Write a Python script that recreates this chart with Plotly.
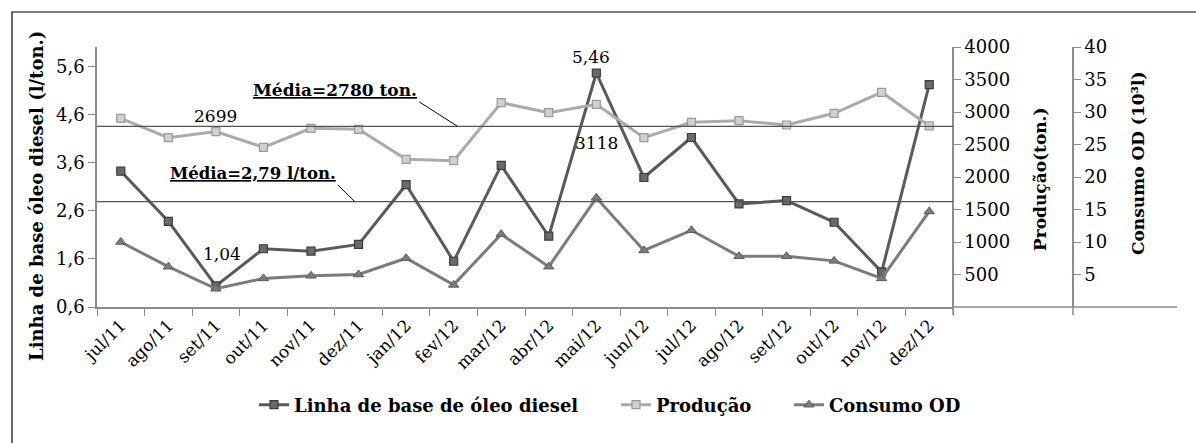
import plotly.graph_objects as go

# ---------------- data ----------------
meses = ["jul/11", "ago/11", "set/11", "out/11", "nov/11", "dez/11", "jan/12", "fev/12",
         "mar/12", "abr/12", "mai/12", "jun/12", "jul/12", "ago/12", "set/12", "out/12",
         "nov/12", "dez/12"]
linha_base = [3.42, 2.38, 1.04, 1.81, 1.76, 1.90, 3.14, 1.55, 3.54, 2.07, 5.46, 3.29,
              4.12, 2.74, 2.81, 2.36, 1.33, 5.22]
producao = [2903, 2605, 2699, 2457, 2749, 2734, 2272, 2251, 3143, 2990, 3118, 2605,
            2841, 2866, 2800, 2980, 3303, 2785]
consumo_od = [10.0, 6.2, 2.8, 4.4, 4.8, 5.0, 7.5, 3.4, 11.2, 6.2, 16.8, 8.7,
              11.8, 7.8, 7.8, 7.1, 4.4, 14.7]
media_prod = 2780
media_linha = 2.79

left_ticks = [0.6, 1.6, 2.6, 3.6, 4.6, 5.6]
prod_ticks = [500, 1000, 1500, 2000, 2500, 3000, 3500, 4000]
cons_ticks = [5, 10, 15, 20, 25, 30, 35, 40]

SERIF = "DejaVu Serif"
AXC = "#8c8c8c"

fig = go.Figure()
fig.add_trace(go.Scatter(
    x=meses, y=linha_base, name="Linha de base de óleo diesel", mode="lines+markers",
    line=dict(color="#5a5a5a", width=3),
    marker=dict(symbol="square", size=8, color="#6a6a6a", line=dict(color="#3c3c3c", width=1.2)),
    yaxis="y", legend="legend"))
fig.add_trace(go.Scatter(
    x=meses, y=producao, name="Produção", mode="lines+markers",
    line=dict(color="#ababab", width=3),
    marker=dict(symbol="square", size=8, color="#d0d0d0", line=dict(color="#9a9a9a", width=1.2)),
    yaxis="y2", legend="legend2"))
fig.add_trace(go.Scatter(
    x=meses, y=consumo_od, name="Consumo OD", mode="lines+markers",
    line=dict(color="#7c7c7c", width=3),
    marker=dict(symbol="triangle-up", size=9, color="#7c7c7c", line=dict(color="#5c5c5c", width=1)),
    yaxis="y3", legend="legend3"))

XD = 856 / 1080
LEG_Y = -0.377
leg_font = dict(family=SERIF, size=18, weight="bold")


def leg(xpx):
    return dict(orientation="h", x=(xpx - 97) / 1080, y=LEG_Y, xanchor="left", yanchor="middle",
                font=leg_font, bgcolor="rgba(0,0,0,0)")


def px2x(px):
    return (px - 97) / 1080


def px2y(py):
    return (307 - py) / 260


fig.update_layout(
    width=1196, height=443,
    margin=dict(l=97, r=19, t=47, b=136),
    paper_bgcolor="white", plot_bgcolor="white",
    separators=",.",
    font=dict(family=SERIF, color="black"),
    showlegend=True,
    legend=leg(254), legend2=leg(616), legend3=leg(789),
    xaxis=dict(domain=[0, XD], type="category", showline=True, linecolor=AXC, linewidth=1.5,
               ticks="outside", tickson="boundaries", ticklen=7, tickcolor=AXC,
               tickangle=-45, tickfont=dict(family=SERIF, size=17), showgrid=False,
               range=[-0.5, 17.5]),
    yaxis=dict(range=[0.6, 6.0], tickvals=left_ticks, tickformat=".1f", showline=True,
               linecolor=AXC, linewidth=1.5, ticks="outside", ticklen=7, tickcolor=AXC,
               tickfont=dict(family=SERIF, size=18), showgrid=False, zeroline=False),
    yaxis2=dict(range=[0, 4000], tickvals=prod_ticks, overlaying="y", side="right",
                anchor="free", position=XD, showline=True, linecolor=AXC, linewidth=1.5,
                ticks="outside", ticklen=7, tickcolor=AXC,
                tickfont=dict(family=SERIF, size=18), showgrid=False, zeroline=False),
    yaxis3=dict(range=[0, 40], tickvals=cons_ticks, overlaying="y", side="right",
                anchor="free", position=px2x(1073), showline=True, linecolor=AXC,
                linewidth=1.5, ticks="outside", ticklen=7, tickcolor=AXC,
                tickfont=dict(family=SERIF, size=18), showgrid=False, zeroline=False),
)

shapes = []
shapes.append(dict(type="line", xref="x domain", yref="y2", x0=0, x1=1, y0=media_prod, y1=media_prod,
                   line=dict(color="#555555", width=1.3)))
shapes.append(dict(type="line", xref="x domain", yref="y", x0=0, x1=1, y0=media_linha, y1=media_linha,
                   line=dict(color="#555555", width=1.3)))
shapes.append(dict(type="line", xref="x", yref="y2", x0=6.28, y0=3154, x1=7.08, y1=media_prod,
                   line=dict(color="black", width=1)))
shapes.append(dict(type="line", xref="x", yref="y", x0=4.57, y0=3.13, x1=4.92, y1=media_linha,
                   line=dict(color="black", width=1)))
shapes.append(dict(type="line", xref="paper", yref="paper", x0=XD, x1=1, y0=0, y1=0,
                   line=dict(color=AXC, width=1.5)))
for px in [XD, px2x(1073)]:
    shapes.append(dict(type="line", xref="paper", yref="paper", x0=px, x1=px, y0=0, y1=-8 / 260,
                       line=dict(color=AXC, width=1.5)))
shapes.append(dict(type="rect", xref="paper", yref="paper",
                   x0=px2x(12), x1=px2x(1210), y0=px2y(460), y1=px2y(12),
                   line=dict(color="black", width=1.2), fillcolor="rgba(0,0,0,0)", layer="below"))
fig.update_layout(shapes=shapes)

ann = []
ann.append(dict(text="<b>Linha de base óleo diesel (l/ton.)</b>", x=px2x(36), y=px2y(196),
                xref="paper", yref="paper", textangle=-90, showarrow=False,
                xanchor="center", yanchor="middle", font=dict(family=SERIF, size=18)))
ann.append(dict(text="<b>Produção(ton.)</b>", x=px2x(1040), y=px2y(179),
                xref="paper", yref="paper", textangle=-90, showarrow=False,
                xanchor="center", yanchor="middle", font=dict(family=SERIF, size=17)))
ann.append(dict(text="<b>Consumo OD (10³l)</b>", x=px2x(1138), y=px2y(163),
                xref="paper", yref="paper", textangle=-90, showarrow=False,
                xanchor="center", yanchor="middle", font=dict(family=SERIF, size=17)))
ann.append(dict(text="<b>Média=2780 ton.</b>", x=6.28, y=3154, xref="x", yref="y2",
                xanchor="right", yanchor="bottom", showarrow=False,
                font=dict(family=SERIF, size=17, lineposition="under")))
ann.append(dict(text="<b>Média=2,79 l/ton.</b>", x=4.57, y=3.13, xref="x", yref="y",
                xanchor="right", yanchor="bottom", showarrow=False,
                font=dict(family=SERIF, size=16.5, lineposition="under")))
ann.append(dict(text=str(producao[2]), x=2, y=producao[2], xref="x", yref="y2",
                yshift=16, showarrow=False, font=dict(family=SERIF, size=17)))
ann.append(dict(text=str(producao[10]), x=10, y=producao[10], xref="x", yref="y2",
                yshift=-39, showarrow=False, font=dict(family=SERIF, size=17)))
ann.append(dict(text=f"{linha_base[10]:.2f}".replace(".", ","), x=10, y=linha_base[10],
                xref="x", yref="y", xshift=-5, yshift=16, showarrow=False,
                font=dict(family=SERIF, size=17)))
ann.append(dict(text=f"{linha_base[2]:.2f}".replace(".", ","), x=2, y=linha_base[2],
                xref="x", yref="y", xshift=6, yshift=32, showarrow=False,
                font=dict(family=SERIF, size=17)))
fig.update_layout(annotations=ann)

fig.write_html("out.html")
